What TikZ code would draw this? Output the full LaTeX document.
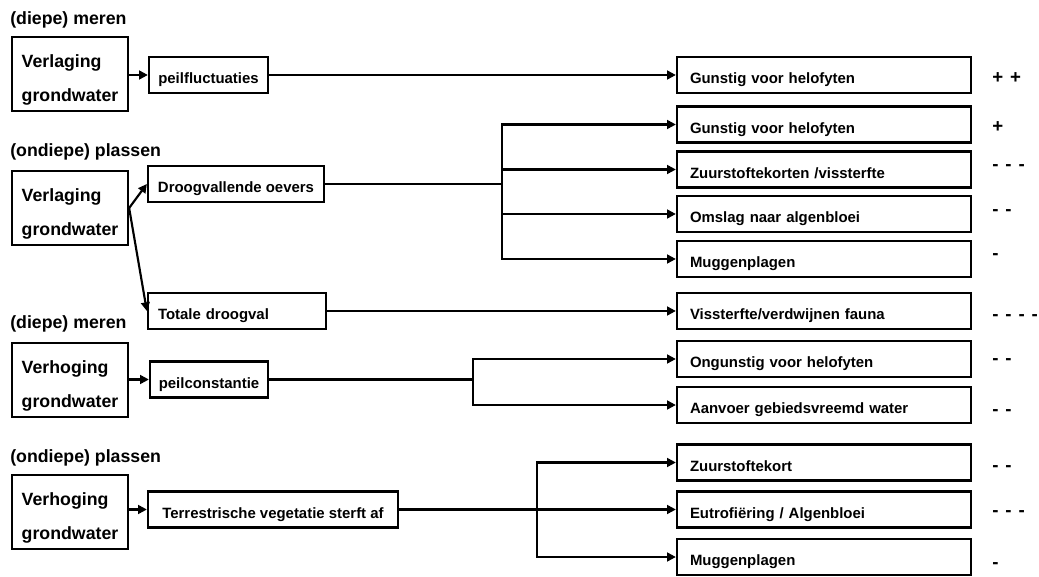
\documentclass[tikz,border=0pt]{standalone}
\usepackage{fontspec}
\setmainfont{Liberation Sans}
\usetikzlibrary{arrows.meta}

\begin{document}
\begin{tikzpicture}[x=0.75pt, y=-0.75pt,
  box/.style={draw, line width=1.7pt, inner sep=0pt, minimum height=27pt},
  grond/.style={box, align=left, minimum width=87pt, minimum height=55.5pt,
                font=\fontsize{13.3}{16}\selectfont\bfseries},
  mid/.style={box, minimum width=#1, text height=15pt, text depth=1.8pt,
              font=\fontsize{11.2}{13}\selectfont\bfseries},
  res/.style={box, text width=201pt, inner xsep=9.75pt, align=left, text height=15pt,
              text depth=1.8pt, font=\fontsize{11.2}{13}\selectfont\bfseries},
  water/.style={anchor=west, inner sep=0pt, font=\fontsize{13.3}{16}\selectfont\bfseries},
  score/.style={anchor=west, inner sep=0pt, font={\fontsize{14}{16}\selectfont\bfseries\spaceskip=0.37em\relax}},
  line/.style={line width=1.6pt},
  arr/.style={line, -{Triangle[length=6.5pt, width=6.5pt]}}
]
\useasboundingbox (0,0) rectangle (1039,577);

\node[water] (l1) at (10,20) {(diepe) meren};
\node[grond] (vg1) at (70,74) {\rule{0pt}{19.3pt}Verlaging\\[9.5pt]grondwater};
\node[mid=89.25pt] (pf) at (208.5,75) {peilfluctuaties};
\node[res] (r1) at (824,75) {Gunstig voor helofyten};
\node[score] (s1) at (992,78) {+ +};

\node[water] (l2) at (10,152) {(ondiepe) plassen};
\node[grond] (vg2) at (70,208) {\rule{0pt}{19.3pt}Verlaging\\[9.5pt]grondwater};
\node[mid=132pt] (dv) at (236,184) {Droogvallende oevers};
\node[mid=133.5pt, text width=118.5pt, align=left, inner xsep=7.5pt] (td) at (237,311) {Totale droogval};
\node[res] (r2) at (824,124.5) {Gunstig voor helofyten};
\node[res] (r3) at (824,169.5) {Zuurstoftekorten /vissterfte};
\node[res] (r4) at (824,214) {Omslag naar algenbloei};
\node[res] (r5) at (824,259) {Muggenplagen};
\node[res] (r6) at (824,311) {Vissterfte/verdwijnen fauna};
\node[score] (s2) at (992,127) {+};
\node[score] (s3) at (992,168) {- - -};
\node[score] (s4) at (992,213) {- -};
\node[score] (s5) at (992,257) {-};
\node[score] (s6) at (992,318) {- - - -};

\node[water] (l3) at (10,324) {(diepe) meren};
\node[grond] (vh1) at (70,380) {\rule{0pt}{19.3pt}Verhoging\\[9.5pt]grondwater};
\node[mid=88.5pt] (pc) at (209,379.5) {peilconstantie};
\node[res] (r7) at (824,359) {Ongunstig voor helofyten};
\node[res] (r8) at (824,405) {Aanvoer gebiedsvreemd water};
\node[score] (s7) at (992,362) {- -};
\node[score] (s8) at (992,413) {- -};

\node[water] (l4) at (10,457.5) {(ondiepe) plassen};
\node[grond] (vh2) at (70,512) {\rule{0pt}{19.3pt}Verhoging\\[9.5pt]grondwater};
\node[mid=187.5pt] (ts) at (273,509.5) {Terrestrische vegetatie sterft af};
\node[res] (r9) at (824,462.5) {Zuurstoftekort};
\node[res] (r10) at (824,509.5) {Eutrofiëring / Algenbloei};
\node[res] (r11) at (824,557) {Muggenplagen};
\node[score] (s9) at (992,469) {- -};
\node[score] (s10) at (992,514) {- - -};
\node[score] (s11) at (992,566) {-};

\coordinate (j1) at (502,184);
\coordinate (j2) at (473,379.5);
\coordinate (j3) at (537,509.5);

\draw[arr] (vg1.east |- pf.west) -- (pf.west);
\draw[arr] (pf.east) -- (r1.west);

\draw[arr] (vg2.east) -- (dv.west);
\draw[arr] (vg2.east) -- (td.west);
\draw[line] (dv.east) -- (j1);
\draw[arr] (j1) |- (r2.west);
\draw[arr] (j1) |- (r3.west);
\draw[arr] (j1) |- (r4.west);
\draw[arr] (j1) |- (r5.west);
\draw[arr] (td.east) -- (r6.west);

\draw[arr] (vh1.east |- pc.west) -- (pc.west);
\draw[line] (pc.east) -- (j2);
\draw[arr] (j2) |- (r7.west);
\draw[arr] (j2) |- (r8.west);

\draw[arr] (vh2.east |- ts.west) -- (ts.west);
\draw[arr] (ts.east) -- (r10.west);
\draw[arr] (j3) |- (r9.west);
\draw[arr] (j3) |- (r11.west);
\end{tikzpicture}
\end{document}
